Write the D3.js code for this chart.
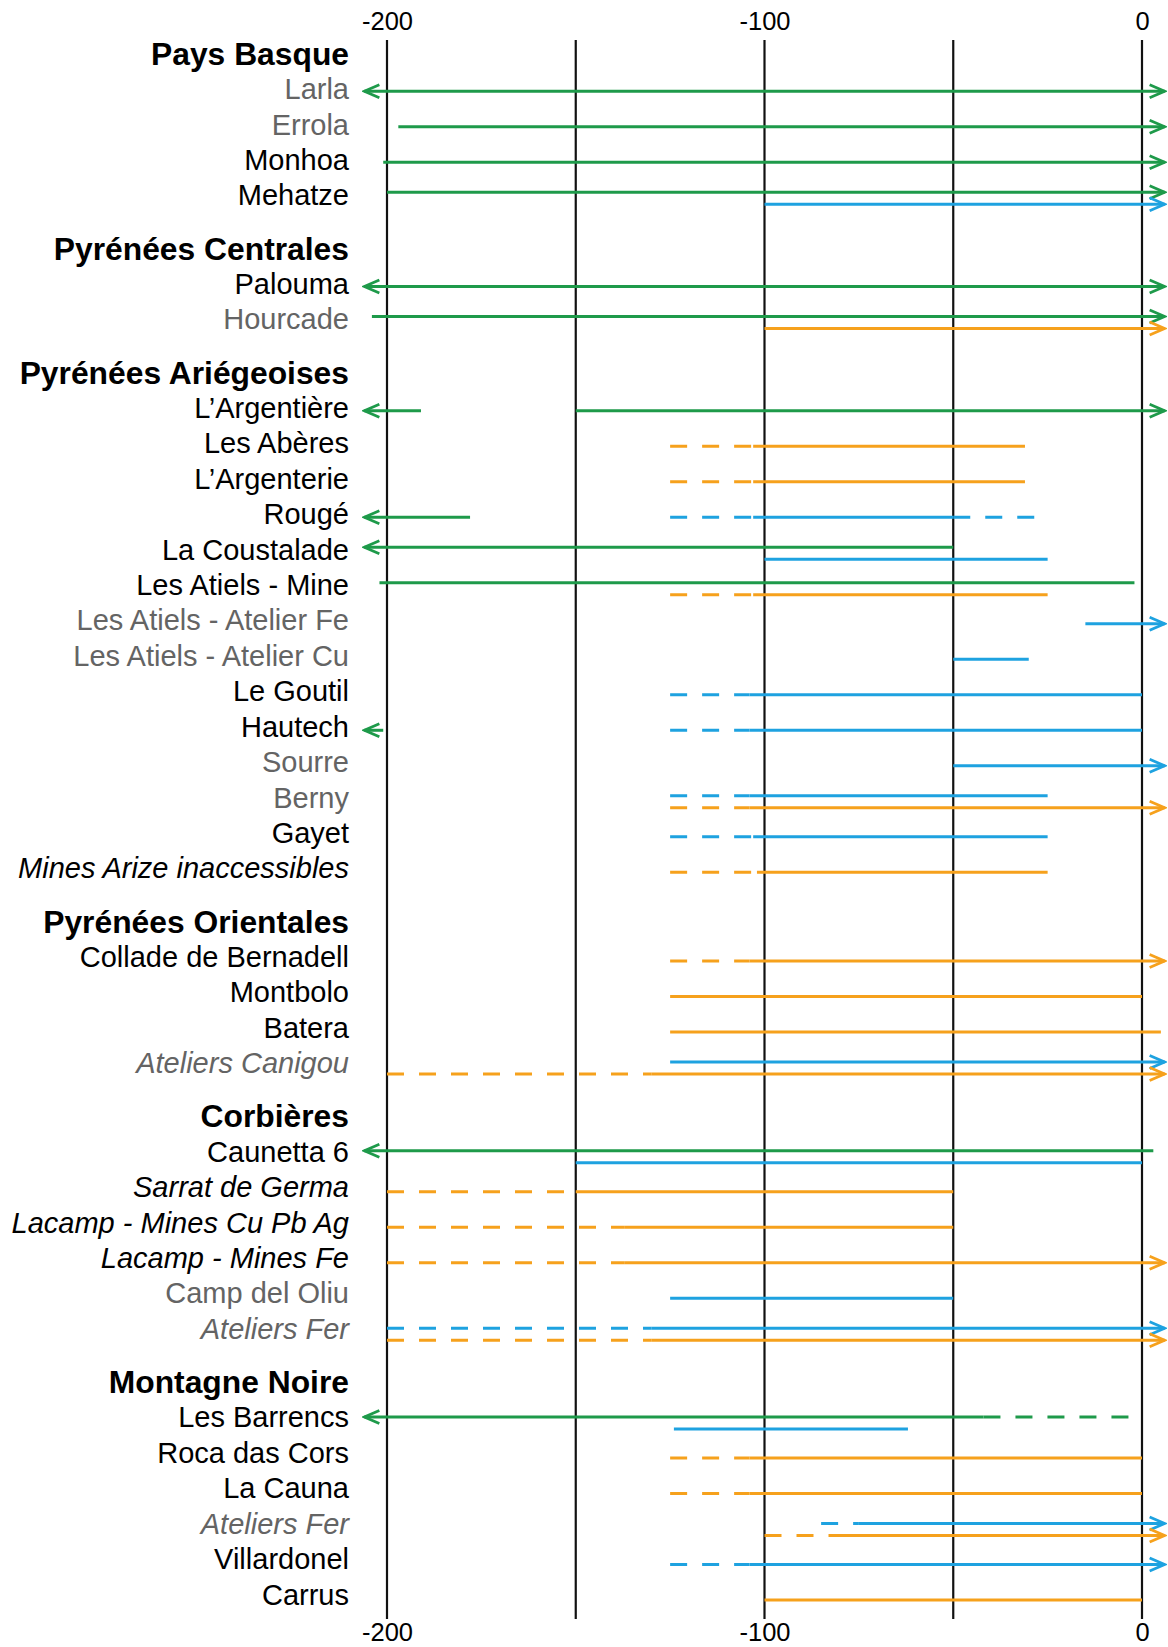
<!DOCTYPE html>
<html><head><meta charset="utf-8">
<script src="https://cdn.jsdelivr.net/npm/d3@7"></script>
<style>html,body{margin:0;padding:0;background:#fff;}</style>
</head><body>
<svg id="chart" width="1168" height="1647"></svg>
<script>
// ---------- DATA ----------
const groups = ["Pays Basque", "Pyrénées Centrales", "Pyrénées Ariégeoises", "Pyrénées Orientales", "Corbières", "Montagne Noire"];

// [id, label, group, tone]
const sites = [
  ["larla", "Larla", "Pays Basque", "gray"],
  ["errola", "Errola", "Pays Basque", "gray"],
  ["monhoa", "Monhoa", "Pays Basque", ""],
  ["mehatze", "Mehatze", "Pays Basque", ""],
  ["palouma", "Palouma", "Pyrénées Centrales", ""],
  ["hourcade", "Hourcade", "Pyrénées Centrales", "gray"],
  ["argentiere", "L’Argentière", "Pyrénées Ariégeoises", ""],
  ["aberes", "Les Abères", "Pyrénées Ariégeoises", ""],
  ["argenterie", "L’Argenterie", "Pyrénées Ariégeoises", ""],
  ["rouge", "Rougé", "Pyrénées Ariégeoises", ""],
  ["coustalade", "La Coustalade", "Pyrénées Ariégeoises", ""],
  ["atielsMine", "Les Atiels - Mine", "Pyrénées Ariégeoises", ""],
  ["atielsFe", "Les Atiels - Atelier Fe", "Pyrénées Ariégeoises", "gray"],
  ["atielsCu", "Les Atiels - Atelier Cu", "Pyrénées Ariégeoises", "gray"],
  ["goutil", "Le Goutil", "Pyrénées Ariégeoises", ""],
  ["hautech", "Hautech", "Pyrénées Ariégeoises", ""],
  ["sourre", "Sourre", "Pyrénées Ariégeoises", "gray"],
  ["berny", "Berny", "Pyrénées Ariégeoises", "gray"],
  ["gayet", "Gayet", "Pyrénées Ariégeoises", ""],
  ["arize", "Mines Arize inaccessibles", "Pyrénées Ariégeoises", "italic"],
  ["collade", "Collade de Bernadell", "Pyrénées Orientales", ""],
  ["montbolo", "Montbolo", "Pyrénées Orientales", ""],
  ["batera", "Batera", "Pyrénées Orientales", ""],
  ["canigou", "Ateliers Canigou", "Pyrénées Orientales", "gray italic"],
  ["caunetta", "Caunetta 6", "Corbières", ""],
  ["sarrat", "Sarrat de Germa", "Corbières", "italic"],
  ["lacampCu", "Lacamp - Mines Cu Pb Ag", "Corbières", "italic"],
  ["lacampFe", "Lacamp - Mines Fe", "Corbières", "italic"],
  ["oliu", "Camp del Oliu", "Corbières", "gray"],
  ["ferCorb", "Ateliers Fer", "Corbières", "gray italic"],
  ["barrencs", "Les Barrencs", "Montagne Noire", ""],
  ["roca", "Roca das Cors", "Montagne Noire", ""],
  ["cauna", "La Cauna", "Montagne Noire", ""],
  ["ferMN", "Ateliers Fer", "Montagne Noire", "gray italic"],
  ["villardonel", "Villardonel", "Montagne Noire", ""],
  ["carrus", "Carrus", "Montagne Noire", ""]
];

const seriesNames = ["vert", "bleu", "orange"];
const seriesColors = ["#1e9a4a", "#1ea2e0", "#f6a11c"];

// [site, series, from, to, dashed, arrows, lane(-1 upper, 0 single, 1 lower)]
const segments = [
  ["larla", "vert", -206, 6, 0, "LR", 0],
  ["errola", "vert", -197, 6, 0, "R", 0],
  ["monhoa", "vert", -201, 6, 0, "R", 0],
  ["mehatze", "vert", -200, 6, 0, "R", -1],
  ["mehatze", "bleu", -100, 6, 0, "R", 1],
  ["palouma", "vert", -206, 6, 0, "LR", 0],
  ["hourcade", "vert", -204, 6, 0, "R", -1],
  ["hourcade", "orange", -100, 6, 0, "R", 1],
  ["argentiere", "vert", -206, -191, 0, "L", 0],
  ["argentiere", "vert", -150, 6, 0, "R", 0],
  ["aberes", "orange", -125, -103, 1, "", 0],
  ["aberes", "orange", -103, -31, 0, "", 0],
  ["argenterie", "orange", -125, -103, 1, "", 0],
  ["argenterie", "orange", -103, -31, 0, "", 0],
  ["rouge", "vert", -206, -178, 0, "L", 0],
  ["rouge", "bleu", -125, -103, 1, "", 0],
  ["rouge", "bleu", -103, -50, 0, "", 0],
  ["rouge", "bleu", -50, -25, 1, "", 0],
  ["coustalade", "vert", -206, -50, 0, "L", -1],
  ["coustalade", "bleu", -100, -25, 0, "", 1],
  ["atielsMine", "vert", -202, -2, 0, "", -1],
  ["atielsMine", "orange", -125, -103, 1, "", 1],
  ["atielsMine", "orange", -103, -25, 0, "", 1],
  ["atielsFe", "bleu", -15, 6, 0, "R", 0],
  ["atielsCu", "bleu", -50, -30, 0, "", 0],
  ["goutil", "bleu", -125, -104, 1, "", 0],
  ["goutil", "bleu", -104, 0, 0, "", 0],
  ["hautech", "vert", -206, -201, 0, "L", 0],
  ["hautech", "bleu", -125, -104, 1, "", 0],
  ["hautech", "bleu", -104, 0, 0, "", 0],
  ["sourre", "bleu", -50, 6, 0, "R", 0],
  ["berny", "bleu", -125, -104, 1, "", -1],
  ["berny", "bleu", -104, -25, 0, "", -1],
  ["berny", "orange", -125, -104, 1, "", 1],
  ["berny", "orange", -104, 6, 0, "R", 1],
  ["gayet", "bleu", -125, -103, 1, "", 0],
  ["gayet", "bleu", -103, -25, 0, "", 0],
  ["arize", "orange", -125, -102, 1, "", 0],
  ["arize", "orange", -102, -25, 0, "", 0],
  ["collade", "orange", -125, -104, 1, "", 0],
  ["collade", "orange", -104, 6, 0, "R", 0],
  ["montbolo", "orange", -125, 0, 0, "", 0],
  ["batera", "orange", -125, 5, 0, "", 0],
  ["canigou", "bleu", -125, 6, 0, "R", -1],
  ["canigou", "orange", -200, -130, 1, "", 1],
  ["canigou", "orange", -130, 6, 0, "R", 1],
  ["caunetta", "vert", -206, 3, 0, "L", -1],
  ["caunetta", "bleu", -150, 0, 0, "", 1],
  ["sarrat", "orange", -200, -150, 1, "", 0],
  ["sarrat", "orange", -150, -50, 0, "", 0],
  ["lacampCu", "orange", -200, -137, 1, "", 0],
  ["lacampCu", "orange", -137, -50, 0, "", 0],
  ["lacampFe", "orange", -200, -137, 1, "", 0],
  ["lacampFe", "orange", -137, 6, 0, "R", 0],
  ["oliu", "bleu", -125, -50, 0, "", 0],
  ["ferCorb", "bleu", -200, -130, 1, "", -1],
  ["ferCorb", "bleu", -130, 6, 0, "R", -1],
  ["ferCorb", "orange", -200, -130, 1, "", 1],
  ["ferCorb", "orange", -130, 6, 0, "R", 1],
  ["barrencs", "vert", -206, -42, 0, "L", -1],
  ["barrencs", "vert", -42, -3, 1, "", -1],
  ["barrencs", "bleu", -124, -62, 0, "", 1],
  ["roca", "orange", -125, -104, 1, "", 0],
  ["roca", "orange", -104, 0, 0, "", 0],
  ["cauna", "orange", -125, -104, 1, "", 0],
  ["cauna", "orange", -104, 0, 0, "", 0],
  ["ferMN", "bleu", -85, -75, 1, "", -1],
  ["ferMN", "bleu", -75, 6, 0, "R", -1],
  ["ferMN", "orange", -100, -80, 1, "", 1],
  ["ferMN", "orange", -80, 6, 0, "R", 1],
  ["villardonel", "bleu", -125, -104, 1, "", 0],
  ["villardonel", "bleu", -104, 6, 0, "R", 0],
  ["carrus", "orange", -100, 0, 0, "", 0]
];

const gridValues = [-200, -150, -100, -50, 0];
const tickLabelValues = [-200, -100, 0];

// ---------- LAYOUT ----------
const rows = [];
let slot = 0;
groups.forEach((g, gi) => {
  if (gi > 0) slot += 0.5;
  rows.push({ type: "header", label: g, slot: slot });
  slot += 1;
  sites.filter(s => s[2] === g).forEach(s => {
    rows.push({ type: "site", id: s[0], label: s[1], tone: s[3], slot: slot });
    slot += 1;
  });
});
const lastSlot = slot - 1;
const slotOf = {};
rows.forEach(r => { if (r.id) slotOf[r.id] = r.slot; });

const svg = d3.select("#chart");
const x = d3.scaleLinear().domain([-200, 0]).range([387, 1142]);
const yLabel = d3.scaleLinear().domain([0, lastSlot]).range([53.6, 1594.4]);
const yLine = d3.scaleLinear().domain([0, lastSlot]).range([55.8, 1600]);
const color = d3.scaleOrdinal().domain(seriesNames).range(seriesColors);
const laneOffset = d3.scaleOrdinal().domain([-1, 0, 1]).range([-5.5, 0, 6.5]);

svg.append("rect").attr("width", 1168).attr("height", 1647).attr("fill", "#fff");

// markers
const defs = svg.append("defs");
seriesNames.forEach(n => {
  defs.append("marker")
    .attr("id", "arrow-" + n)
    .attr("markerUnits", "userSpaceOnUse")
    .attr("viewBox", "-18 -9 20 18")
    .attr("refX", 0).attr("refY", 0)
    .attr("markerWidth", 20).attr("markerHeight", 18)
    .attr("orient", "auto-start-reverse")
    .append("path")
    .attr("d", "M-15,-6.5L0,0L-15,6.5")
    .attr("fill", "none")
    .attr("stroke", color(n))
    .attr("stroke-width", 2.8);
});

// gridlines
svg.append("g").selectAll("line").data(gridValues).join("line")
  .attr("x1", d => x(d)).attr("x2", d => x(d))
  .attr("y1", 40).attr("y2", 1619)
  .attr("stroke", "#111").attr("stroke-width", 2.2);

// axes
const fontFam = "'Liberation Sans', Arial, Helvetica, sans-serif";
const axTop = svg.append("g").attr("transform", "translate(0,30)")
  .call(d3.axisTop(x).tickValues(tickLabelValues).tickSize(0).tickPadding(0).tickFormat(d3.format("d")));
const axBot = svg.append("g").attr("transform", "translate(0,1623)")
  .call(d3.axisBottom(x).tickValues(tickLabelValues).tickSize(0).tickPadding(0).tickFormat(d3.format("d")));
[axTop, axBot].forEach(a => {
  a.select(".domain").remove();
  a.selectAll("text").attr("font-family", fontFam).attr("font-size", 25.5).attr("fill", "#000");
});
// use hyphen-minus like the original
svg.selectAll(".tick text").text(d => String(d));

// labels
svg.append("g").selectAll("text").data(rows).join("text")
  .attr("x", 349)
  .attr("y", d => yLabel(d.slot))
  .attr("dy", "0.35em")
  .attr("text-anchor", "end")
  .attr("font-family", fontFam)
  .attr("font-size", d => d.type === "header" ? 31.8 : 29)
  .attr("font-weight", d => d.type === "header" ? "bold" : "normal")
  .attr("font-style", d => d.tone && d.tone.includes("italic") ? "italic" : "normal")
  .attr("fill", d => d.tone && d.tone.includes("gray") ? "#646464" : "#000")
  .text(d => d.label);

// segments
svg.append("g").selectAll("line").data(segments).join("line")
  .attr("x1", d => x(d[2])).attr("x2", d => x(d[3]))
  .attr("y1", d => yLine(slotOf[d[0]]) + laneOffset(d[6]))
  .attr("y2", d => yLine(slotOf[d[0]]) + laneOffset(d[6]))
  .attr("stroke", d => color(d[1]))
  .attr("stroke-width", 3)
  .attr("stroke-dasharray", d => d[4] ? "17,15" : null)
  .attr("marker-start", d => d[5].includes("L") ? `url(#arrow-${d[1]})` : null)
  .attr("marker-end", d => d[5].includes("R") ? `url(#arrow-${d[1]})` : null);
</script>
</body></html>
